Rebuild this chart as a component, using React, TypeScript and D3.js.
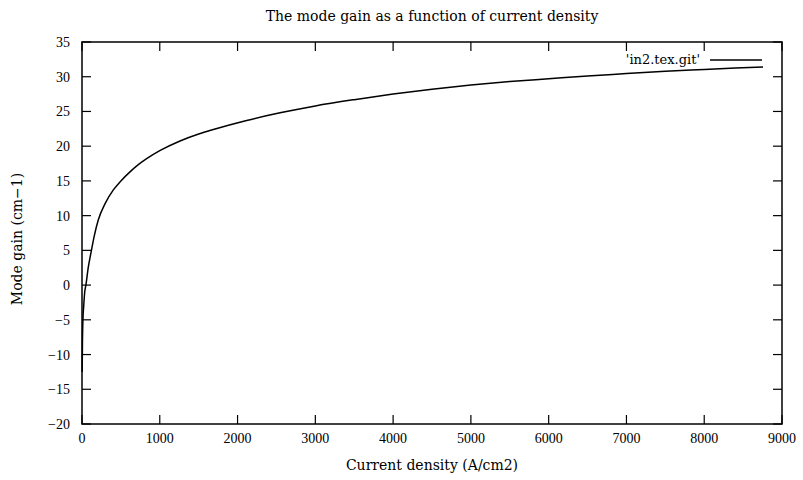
import React from "react";
import * as d3 from "d3";

const currentDensity = [2, 6, 12, 22, 35, 50, 80, 116, 160, 210, 300, 403, 500, 617, 720, 831, 1000, 1260, 1500, 1689, 2117, 2546, 3000, 3500, 4000, 4500, 5000, 5500, 6000, 6500, 7000, 7500, 8000, 8400, 8756];
const modeGain = [-12.5, -8, -5, -3, -1, 0, 2.5, 4.7, 7.2, 9.4, 11.8, 13.7, 15.0, 16.3, 17.3, 18.2, 19.35, 20.75, 21.75, 22.4, 23.7, 24.8, 25.8, 26.7, 27.5, 28.2, 28.8, 29.3, 29.7, 30.1, 30.45, 30.8, 31.05, 31.25, 31.4];
const xTicks = [0, 1000, 2000, 3000, 4000, 5000, 6000, 7000, 8000, 9000];
const yTicks = [-20, -15, -10, -5, 0, 5, 10, 15, 20, 25, 30, 35];

const W = 803, H = 480;
const left = 82, right = 782, top = 42, bottom = 424;
const font = "'Liberation Serif', serif";
const font2 = "'DejaVu Serif', serif";

export default function App() {
  const x = d3.scaleLinear().domain([0, 9000]).range([left, right]);
  const y = d3.scaleLinear().domain([-20, 35]).range([bottom, top]);
  const pts = currentDensity.map((d, i) => [d, modeGain[i]] as [number, number]);
  const line = d3.line<[number, number]>().x(d => x(d[0])).y(d => y(d[1])).curve(d3.curveMonotoneX);
  const tl = 9;
  return (
    <svg width={W} height={H} style={{ position: "absolute", left: 0, top: 0, background: "#fff" }}>
      <rect x={0} y={0} width={W} height={H} fill="#fff" />
      <text x={(left + right) / 2} y={21} textAnchor="middle" fontFamily={font2} fontSize={14}>The mode gain as a function of current density</text>
      {xTicks.map(t => (
        <g key={"x" + t}>
          <line x1={x(t)} x2={x(t)} y1={bottom} y2={bottom - tl} stroke="#000" strokeWidth={1.2} />
          <line x1={x(t)} x2={x(t)} y1={top} y2={top + tl} stroke="#000" strokeWidth={1.2} />
          <text x={x(t)} y={bottom + 19} textAnchor="middle" fontFamily={font} fontSize={14}>{t}</text>
        </g>
      ))}
      {yTicks.map(t => (
        <g key={"y" + t}>
          <line x1={left} x2={left + tl} y1={y(t)} y2={y(t)} stroke="#000" strokeWidth={1.2} />
          <line x1={right} x2={right - tl} y1={y(t)} y2={y(t)} stroke="#000" strokeWidth={1.2} />
          <text x={left - 12} y={y(t) + 5} textAnchor="end" fontFamily={font} fontSize={14}>{t === 0 ? "0" : t < 0 ? "\u2212" + Math.abs(t) : t}</text>
        </g>
      ))}
      <rect x={left} y={top} width={right - left} height={bottom - top} fill="none" stroke="#000" strokeWidth={1.5} />
      <path d={line(pts) || ""} fill="none" stroke="#000" strokeWidth={1.5} />
      <text x={700} y={64} textAnchor="end" fontFamily={font2} fontSize={13}>'in2.tex.git'</text>
      <line x1={710} x2={762} y1={60} y2={60} stroke="#000" strokeWidth={1.5} />
      <text x={(left + right) / 2} y={470} textAnchor="middle" fontFamily={font2} fontSize={14}>Current density (A/cm2)</text>
      <text transform={`translate(22, ${(top + bottom) / 2 + 6}) rotate(-90)`} textAnchor="middle" fontFamily={font2} fontSize={14}>Mode gain (cm−1)</text>
    </svg>
  );
}
